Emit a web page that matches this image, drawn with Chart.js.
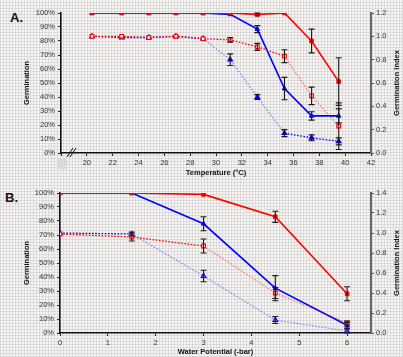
<!DOCTYPE html>
<html>
<head>
<meta charset="utf-8">
<script src="https://cdn.jsdelivr.net/npm/chart.js@4/dist/chart.umd.min.js"></script>
<style>
  html, body { margin: 0; padding: 0; }
  body {
    width: 403px; height: 357px; position: relative; overflow: hidden;
    background-color: #f5f4f2;
    background-image:
      repeating-linear-gradient(0deg, rgba(150,150,150,0.22) 0 1px, transparent 1px 3px),
      repeating-linear-gradient(90deg, rgba(150,150,150,0.22) 0 1px, transparent 1px 3px);
    font-family: "Liberation Sans", Arial, sans-serif;
  }
  canvas { position: absolute; left: 0; }
  #chartA { top: 0; }
  #chartB { top: 180px; }
  .panel-tag { position: absolute; font-weight: bold; font-size: 13px; color: #111; }
</style>
</head>
<body>
<div class="panel-tag" style="left:10px; top:10px;">A.</div>
<div class="panel-tag" style="left:5px; top:190px;">B.</div>
<canvas id="chartA" width="403" height="180"></canvas>
<canvas id="chartB" width="403" height="177"></canvas>
<script>
// ==========================================================================
// DATA
// ==========================================================================

// Panel A: temperature response
const tempA = [20.4, 22.7, 24.8, 26.9, 29.0, 31.1, 33.2, 35.3, 37.4, 39.5];
const germRedA = [100, 100, 100, 100, 100, 100, 99, 100, 80, 51];
const germRedAErr = [0, 0, 0, 0, 0, 0, 1, 0, 8.5, 17];
const germBlueA = [100, 100, 100, 100, 100, 99, 88.5, 46, 26.5, 26.5];
const germBlueAErr = [0, 0, 0, 0, 0, 0, 2.5, 8, 3, 5];
const indexRedA = [1.0, 1.0, 0.99, 1.0, 0.98, 0.97, 0.91, 0.83, 0.49, 0.23];
const indexRedAErr = [0, 0, 0, 0, 0, 0.02, 0.03, 0.055, 0.075, 0.2];
const indexBlueA = [1.0, 0.99, 0.99, 1.0, 0.98, 0.80, 0.48, 0.17, 0.13, 0.10];
const indexBlueAErr = [0, 0, 0, 0, 0, 0.05, 0.02, 0.03, 0.025, 0.03];

// Panel B: water potential response
const waterB = [0, 1.5, 3, 4.5, 6];
const germRedB = [100, 100, 99, 83, 28];
const germRedBErr = [0, 0, 0, 4, 5];
const germBlueB = [100, 100, 78, 32, 5.5];
const germBlueBErr = [0, 0, 5, 9, 2];
const indexRedB = [0.99, 0.96, 0.87, 0.40, 0.10];
const indexRedBErr = [0, 0.04, 0.07, 0.055, 0.02];
const indexBlueB = [1.0, 0.99, 0.57, 0.13, 0.02];
const indexBlueBErr = [0, 0.02, 0.057, 0.035, 0.02];

// ==========================================================================
// HELPERS
// ==========================================================================

const RED = '#ff0000';
const BLUE = '#0000ff';
const RED_LIGHT = 'rgba(255, 0, 0, 0.45)';
const BLUE_LIGHT = 'rgba(0, 0, 255, 0.4)';

function pts(xs, ys) {
    return xs.map((x, i) => ({ x: x, y: ys[i] }));
}

// solid line = germination (left axis), dotted line = index (right axis)
function solidSet(xs, ys, errs, color, shape) {
    return {
        data: pts(xs, ys), errs: errs, yAxisID: 'y',
        borderColor: color, borderWidth: 1.6,
        pointStyle: shape, pointRadius: 2.6,
        pointBackgroundColor: color, pointBorderColor: color, pointBorderWidth: 1
    };
}

function dottedSet(xs, ys, errs, color, light, shape, open) {
    return {
        data: pts(xs, ys), errs: errs, yAxisID: 'y1',
        borderColor: color, borderWidth: 1.3, borderDash: [1.6, 1.6],
        // steep dotted segments look faded in the original
        segment: {
            borderColor: (c) => Math.abs(c.p1.y - c.p0.y) > 10 ? light : color
        },
        pointStyle: shape, pointRadius: 2.6,
        pointBackgroundColor: open ? '#ffffff' : color, pointBorderColor: color, pointBorderWidth: 1.2
    };
}

// Draw vertical error bars with caps through the chart's own scales
const errorBars = {
    id: 'errorBars',
    afterDatasetsDraw(chart) {
        const ctx = chart.ctx;
        ctx.save();
        ctx.strokeStyle = '#1a1a1a';
        ctx.lineWidth = 1.1;
        chart.data.datasets.forEach((ds, di) => {
            if (!ds.errs) return;
            const meta = chart.getDatasetMeta(di);
            const scale = chart.scales[ds.yAxisID];
            meta.data.forEach((pt, i) => {
                const e = ds.errs[i];
                if (!e) return;
                const v = ds.data[i].y;
                const top = scale.getPixelForValue(v + e);
                const bot = scale.getPixelForValue(v - e);
                const x = pt.x;
                ctx.beginPath();
                ctx.moveTo(x, top); ctx.lineTo(x, bot);
                ctx.moveTo(x - 3, top); ctx.lineTo(x + 3, top);
                ctx.moveTo(x - 3, bot); ctx.lineTo(x + 3, bot);
                ctx.stroke();
            });
        });
        ctx.restore();
    }
};

// Right axis title reads bottom-to-top like the left one
const rightTitle = {
    id: 'rightTitle',
    afterDraw(chart) {
        const ctx = chart.ctx;
        const area = chart.chartArea;
        ctx.save();
        ctx.translate(396.5, (area.top + area.bottom) / 2);
        ctx.rotate(-Math.PI / 2);
        ctx.fillStyle = '#111';
        ctx.font = 'bold 7.5px "Liberation Sans", Arial';
        ctx.textAlign = 'center';
        ctx.textBaseline = 'middle';
        ctx.fillText('Germination Index', 0, 0);
        ctx.restore();
    }
};

// Axis break marks on the temperature axis
const axisBreak = {
    id: 'axisBreak',
    afterDraw(chart) {
        if (!chart.options.plugins.axisBreak) return;
        const ctx = chart.ctx;
        const y = chart.chartArea.bottom;
        ctx.save();
        ctx.fillStyle = '#d9d9d9';
        ctx.fillRect(57, y + 5, 9, 11);
        ctx.strokeStyle = '#111';
        ctx.lineWidth = 1;
        ctx.beginPath();
        ctx.moveTo(67, y + 4); ctx.lineTo(73, y - 5);
        ctx.moveTo(70, y + 4); ctx.lineTo(76, y - 5);
        ctx.stroke();
        ctx.restore();
    }
};

const tickFont = { family: '"Liberation Sans", Arial', size: 7.5 };
const titleFont = { family: '"Liberation Sans", Arial', size: 7.5, weight: 'bold' };

function buildOptions(cfg) {
    return {
        responsive: false,
        animation: false,
        layout: { padding: { top: cfg.padTop, left: 0, right: 0, bottom: 0 } },
        plugins: {
            legend: { display: false },
            tooltip: { enabled: false },
            axisBreak: cfg.axisBreak
        },
        scales: {
            x: {
                type: 'linear',
                min: cfg.xMin, max: cfg.xMax,
                afterFit: (s) => { s.height = cfg.xHeight; },
                ticks: {
                    stepSize: cfg.xStep, includeBounds: false,
                    color: '#333', font: tickFont, padding: 2, maxRotation: 0,
                    callback: (v) => (cfg.hideX && v === cfg.hideX) ? '' : v
                },
                grid: { drawOnChartArea: false, drawTicks: true, tickLength: 3, color: '#222' },
                border: { color: '#111', width: 1.6 },
                title: { display: true, text: cfg.xTitle, color: '#111', font: titleFont, padding: { top: 0, bottom: cfg.xTitlePad } }
            },
            y: {
                position: 'left',
                min: 0, max: 100,
                afterFit: (s) => { s.width = cfg.leftW; },
                ticks: { stepSize: 10, color: '#333', font: tickFont, padding: 3, callback: (v) => v + '%' },
                grid: { drawOnChartArea: false, drawTicks: true, tickLength: 3, color: '#222' },
                border: { color: '#111', width: 1.6 },
                title: { display: true, text: 'Germination', color: '#111', font: titleFont, padding: { top: 22, bottom: 0 } }
            },
            y1: {
                position: 'right',
                min: 0, max: cfg.rightMax,
                afterFit: (s) => { s.width = cfg.rightW; },
                ticks: { stepSize: 0.2, color: '#333', font: tickFont, padding: 2, callback: (v) => v.toFixed(1) },
                grid: { drawOnChartArea: false, drawTicks: true, tickLength: 3, color: '#555' },
                border: { color: '#666', width: 2 },
                title: { display: false }
            }
        }
    };
}

// ==========================================================================
// CHART A: TEMPERATURE
// ==========================================================================
new Chart(document.getElementById('chartA'), {
    type: 'line',
    data: {
        datasets: [
            dottedSet(tempA, indexRedA, indexRedAErr, RED, RED_LIGHT, 'rect', true),
            dottedSet(tempA, indexBlueA, indexBlueAErr, BLUE, BLUE_LIGHT, 'triangle', false),
            solidSet(tempA, germRedA, germRedAErr, RED, 'rect'),
            solidSet(tempA, germBlueA, germBlueAErr, BLUE, 'triangle')
        ]
    },
    options: buildOptions({
        padTop: 13, xMin: 18, xMax: 42, xStep: 2, hideX: 18, xHeight: 27,
        xTitle: 'Temperature (\u00B0C)', xTitlePad: 3,
        leftW: 61, rightW: 32, rightMax: 1.2, axisBreak: true
    }),
    plugins: [errorBars, axisBreak, rightTitle]
});

// ==========================================================================
// CHART B: WATER POTENTIAL
// ==========================================================================
new Chart(document.getElementById('chartB'), {
    type: 'line',
    data: {
        datasets: [
            dottedSet(waterB, indexRedB, indexRedBErr, RED, RED_LIGHT, 'rect', true),
            dottedSet(waterB, indexBlueB, indexBlueBErr, BLUE, BLUE_LIGHT, 'triangle', true),
            solidSet(waterB, germRedB, germRedBErr, RED, 'rect'),
            solidSet(waterB, germBlueB, germBlueBErr, BLUE, 'triangle')
        ]
    },
    options: buildOptions({
        padTop: 13, xMin: 0, xMax: 6.5, xStep: 1, hideX: null, xHeight: 24,
        xTitle: 'Water Potential (-bar)', xTitlePad: 1,
        leftW: 60, rightW: 32, rightMax: 1.4, axisBreak: false
    }),
    plugins: [errorBars, axisBreak, rightTitle]
});
</script>
</body>
</html>
